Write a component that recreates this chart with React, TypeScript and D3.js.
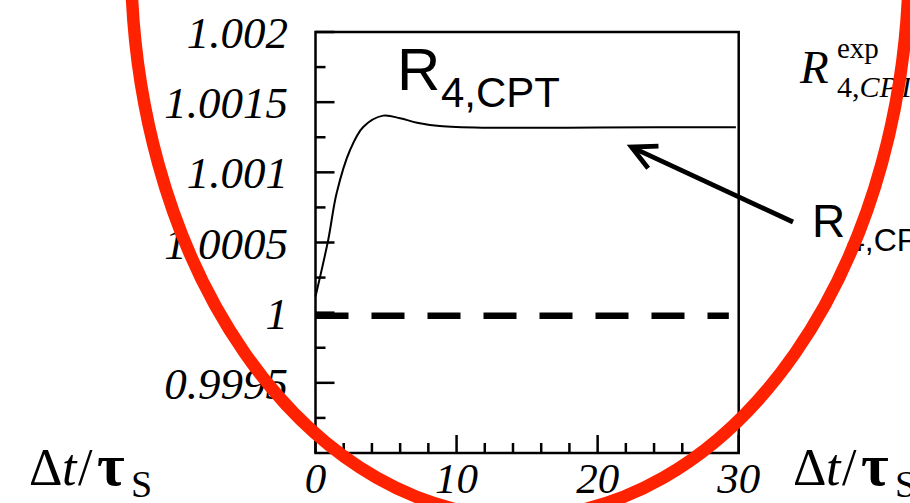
import React from "react";
import * as d3 from "d3";

// R_4,CPT versus time step
const timeSteps = [0, 0.9, 1.5, 2.45, 3.4, 4.8, 6, 7.2, 8.8, 11.9, 20, 29.8];
const ratioValues = [
  1.000115, 1.000518, 1.000853, 1.001159, 1.001325, 1.001404, 1.001385,
  1.001354, 1.00133, 1.001318, 1.00132, 1.001321,
];
const referenceStart = 0;
const referenceEnd = 29.3;
const referenceValue = 1;

const xMajorTicks = [0, 10, 20, 30];
const xTickLabels = ["0", "10", "20", "30"];
const yMajorTicks = [0.9995, 1, 1.0005, 1.001, 1.0015, 1.002];
const yTickLabels = ["0.9995", "1", "1.0005", "1.001", "1.0015", "1.002"];

// arrow in data coordinates: tail -> tip
const arrowTail = [33.85, 1.000646];
const arrowTip = [22.4, 1.00118];

const W = 910;
const H = 503;
const frame = { left: 315.5, right: 738.7, top: 32, bottom: 453 };

const serif = "'Liberation Serif', 'DejaVu Serif', serif";
const sans = "'Liberation Sans', Arial, sans-serif";

export default function App() {
  const x = d3.scaleLinear().domain([0, 30]).range([frame.left, frame.right]);
  const y = d3.scaleLinear().domain([0.999, 1.002]).range([frame.bottom, frame.top]);

  const xMinor = d3.range(0, 30, 2).filter((d) => !xMajorTicks.includes(d));
  const yMinor = d3.range(0, 12).map((i) => 0.999 + 0.00025 * i + 0.00025).filter((_, i) => i % 2 === 0);

  const line = d3
    .line<number>()
    .x((_, i) => x(timeSteps[i]))
    .y((d) => y(d))
    .curve(d3.curveCatmullRom.alpha(0.5));

  // arrowhead
  const tx = x(arrowTip[0]);
  const ty = y(arrowTip[1]);
  const sx = x(arrowTail[0]);
  const sy = y(arrowTail[1]);
  const ang = Math.atan2(sy - ty, sx - tx);
  const headLen = 27;
  const spread = (27 * Math.PI) / 180;
  const h1 = [tx + headLen * Math.cos(ang - spread), ty + headLen * Math.sin(ang - spread)];
  const h2 = [tx + headLen * Math.cos(ang + spread), ty + headLen * Math.sin(ang + spread)];

  return (
    <svg
      width={W}
      height={H}
      viewBox={`0 0 ${W} ${H}`}
      style={{ position: "absolute", left: 0, top: 0, background: "#fff" }}
    >
      <rect width={W} height={H} fill="#fff" />

      {/* reference dashed line */}
      <line
        x1={x(referenceStart)}
        x2={x(referenceEnd)}
        y1={y(referenceValue) + 3}
        y2={y(referenceValue) + 3}
        stroke="#000"
        strokeWidth={6.5}
        strokeDasharray="33,23"
      />

      {/* curve */}
      <path d={line(ratioValues) || ""} fill="none" stroke="#000" strokeWidth={2} />

      {/* frame */}
      <rect
        x={frame.left}
        y={frame.top}
        width={frame.right - frame.left}
        height={frame.bottom - frame.top}
        fill="none"
        stroke="#000"
        strokeWidth={2.5}
      />

      {/* y ticks */}
      {yMajorTicks.map((d) => (
        <line key={"ym" + d} x1={frame.left} x2={frame.left + 19} y1={y(d)} y2={y(d)} stroke="#000" strokeWidth={2.5} />
      ))}
      {yMinor.map((d) => (
        <line key={"yn" + d} x1={frame.left} x2={frame.left + 10} y1={y(d)} y2={y(d)} stroke="#000" strokeWidth={2.5} />
      ))}
      {yMajorTicks.map((d, i) => (
        <text
          key={"yl" + d}
          x={288}
          y={y(d) + 16}
          textAnchor="end"
          fontFamily={serif}
          fontStyle="italic"
          fontSize={45}
        >
          {yTickLabels[i]}
        </text>
      ))}

      {/* x ticks */}
      {xMajorTicks.map((d) => (
        <line key={"xm" + d} x1={x(d)} x2={x(d)} y1={frame.bottom} y2={frame.bottom - 18} stroke="#000" strokeWidth={2.5} />
      ))}
      {xMinor.map((d) => (
        <line key={"xn" + d} x1={x(d)} x2={x(d)} y1={frame.bottom} y2={frame.bottom - 10} stroke="#000" strokeWidth={2.5} />
      ))}
      {xMajorTicks.map((d, i) => (
        <text
          key={"xl" + d}
          x={x(d)}
          y={493}
          textAnchor="middle"
          fontFamily={serif}
          fontStyle="italic"
          fontSize={43}
        >
          {xTickLabels[i]}
        </text>
      ))}

      {/* axis titles */}
      {[29, 793].map((ox) => (
        <text key={"ax" + ox} fontFamily={serif} fontSize={52} y={485}>
          <tspan x={ox}>Δ</tspan>
          <tspan x={ox + 33} fontStyle="italic">t</tspan>
          <tspan x={ox + 49}>/</tspan>
          <tspan x={ox + 68} fontWeight="bold" fontSize={60}>τ</tspan>
          <tspan x={ox + 102} y={497} fontSize={38}>S</tspan>
        </text>
      ))}

      {/* panel title */}
      <text fontFamily={sans} fill="#000">
        <tspan x={397} y={90} fontSize={60}>R</tspan>
        <tspan x={441} y={107} fontSize={42}>4,CPT</tspan>
      </text>

      {/* right annotation: R exp */}
      <text fontFamily={serif} fill="#000">
        <tspan x={800} y={83} fontSize={47} fontStyle="italic">R</tspan>
        <tspan x={837} y={58} fontSize={29}>exp</tspan>
        <tspan x={837} y={97} fontSize={30}>4,</tspan>
        <tspan fontSize={30} fontStyle="italic">CPT</tspan>
      </text>

      {/* right annotation: R_4,CPT with arrow */}
      <text fontFamily={sans} fill="#000">
        <tspan x={812} y={237} fontSize={46}>R</tspan>
        <tspan x={847} y={251} fontSize={32}>4,CPT</tspan>
      </text>
      <line x1={sx} y1={sy} x2={tx} y2={ty} stroke="#000" strokeWidth={4.8} />
      <polyline
        points={`${h1[0]},${h1[1]} ${tx},${ty} ${h2[0]},${h2[1]}`}
        fill="none"
        stroke="#000"
        strokeWidth={4.8}
      />

      {/* red highlight ellipse */}
      <ellipse cx={520} cy={-42} rx={389} ry={559} fill="none" stroke="#ff2200" strokeWidth={12.5} />
    </svg>
  );
}
